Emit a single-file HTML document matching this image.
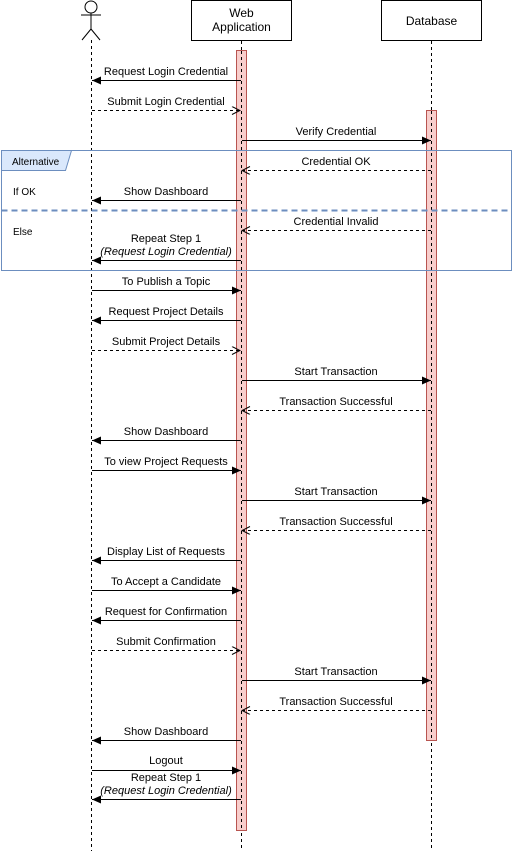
<!DOCTYPE html>
<html><head><meta charset="utf-8"><style>
html,body{margin:0;padding:0;background:#fff;}
svg{display:block;font-family:"Liberation Sans",Arial,sans-serif;}
</style></head><body>
<svg width="512" height="851" viewBox="0 0 512 851" xmlns="http://www.w3.org/2000/svg">
<defs>
<marker id="f" markerWidth="10" markerHeight="10" refX="9" refY="4" orient="auto" markerUnits="userSpaceOnUse"><path d="M0,0 L9,4 L0,8 Z" fill="#000"/></marker>
<marker id="o" markerWidth="10" markerHeight="10" refX="9" refY="4" orient="auto" markerUnits="userSpaceOnUse"><path d="M1,0 L9,4 L1,8" fill="none" stroke="#000" stroke-width="1"/></marker>
</defs>
<!-- actor -->
<g stroke="#000" stroke-width="1" fill="none">
<circle cx="91" cy="7" r="6" fill="#fff"/>
<line x1="91" y1="13" x2="91" y2="29"/>
<line x1="81" y1="15" x2="101" y2="15"/>
<line x1="91" y1="29" x2="82" y2="40"/>
<line x1="91" y1="29" x2="100" y2="40"/>
</g>
<!-- boxes -->
<rect x="191.5" y="0.5" width="100" height="40" fill="#fff" stroke="#000"/>
<text x="241.5" y="17" font-size="12" text-anchor="middle">Web</text>
<text x="241.5" y="31" font-size="12" text-anchor="middle">Application</text>
<rect x="381.5" y="0.5" width="100" height="40" fill="#fff" stroke="#000"/>
<text x="431.5" y="25" font-size="12" text-anchor="middle">Database</text>
<!-- lifelines -->
<g stroke="#000" stroke-dasharray="3,3">
<line x1="91.5" y1="40" x2="91.5" y2="851"/>
<line x1="241.5" y1="41" x2="241.5" y2="851"/>
<line x1="431.5" y1="41" x2="431.5" y2="851"/>
</g>
<!-- activation bars -->
<rect x="236.5" y="50.5" width="10" height="780" fill="#f8cecc" stroke="#b85450"/>
<rect x="426.5" y="110.5" width="10" height="630" fill="#f8cecc" stroke="#b85450"/>
<g stroke="#000" stroke-dasharray="3,3">
<line x1="241.5" y1="51" x2="241.5" y2="830"/>
<line x1="431.5" y1="111" x2="431.5" y2="740"/>
</g>
<!-- alt frame -->
<rect x="1.5" y="150.5" width="510" height="120" fill="none" stroke="#6c8ebf"/>
<path d="M1.5,150.5 H71.5 L65.5,170.5 H1.5 Z" fill="#dae8fc" stroke="#6c8ebf"/>
<text x="12" y="165" font-size="10">Alternative</text>
<text x="13" y="195" font-size="10">If OK</text>
<text x="13" y="235" font-size="10">Else</text>
<line x1="1.5" y1="210.5" x2="511.5" y2="210.5" stroke="#6c8ebf" stroke-width="2" stroke-dasharray="6,4"/>
<!-- messages -->
<g stroke="#000" stroke-width="1" fill="none">
<line x1="241" y1="80.5" x2="92" y2="80.5" marker-end="url(#f)"/>
<line x1="92" y1="110.5" x2="240" y2="110.5" stroke-dasharray="3,3" marker-end="url(#o)"/>
<line x1="242" y1="140.5" x2="431" y2="140.5" marker-end="url(#f)"/>
<line x1="431" y1="170.5" x2="242" y2="170.5" stroke-dasharray="3,3" marker-end="url(#o)"/>
<line x1="241" y1="200.5" x2="92" y2="200.5" marker-end="url(#f)"/>
<line x1="431" y1="230.5" x2="242" y2="230.5" stroke-dasharray="3,3" marker-end="url(#o)"/>
<line x1="241" y1="260.5" x2="92" y2="260.5" marker-end="url(#f)"/>
<line x1="92" y1="290.5" x2="241" y2="290.5" marker-end="url(#f)"/>
<line x1="241" y1="320.5" x2="92" y2="320.5" marker-end="url(#f)"/>
<line x1="92" y1="350.5" x2="240" y2="350.5" stroke-dasharray="3,3" marker-end="url(#o)"/>
<line x1="242" y1="380.5" x2="431" y2="380.5" marker-end="url(#f)"/>
<line x1="431" y1="410.5" x2="242" y2="410.5" stroke-dasharray="3,3" marker-end="url(#o)"/>
<line x1="241" y1="440.5" x2="92" y2="440.5" marker-end="url(#f)"/>
<line x1="92" y1="470.5" x2="241" y2="470.5" marker-end="url(#f)"/>
<line x1="242" y1="500.5" x2="431" y2="500.5" marker-end="url(#f)"/>
<line x1="431" y1="530.5" x2="242" y2="530.5" stroke-dasharray="3,3" marker-end="url(#o)"/>
<line x1="241" y1="560.5" x2="92" y2="560.5" marker-end="url(#f)"/>
<line x1="92" y1="590.5" x2="241" y2="590.5" marker-end="url(#f)"/>
<line x1="241" y1="620.5" x2="92" y2="620.5" marker-end="url(#f)"/>
<line x1="92" y1="650.5" x2="240" y2="650.5" stroke-dasharray="3,3" marker-end="url(#o)"/>
<line x1="242" y1="680.5" x2="431" y2="680.5" marker-end="url(#f)"/>
<line x1="431" y1="710.5" x2="242" y2="710.5" stroke-dasharray="3,3" marker-end="url(#o)"/>
<line x1="241" y1="740.5" x2="92" y2="740.5" marker-end="url(#f)"/>
<line x1="92" y1="770.5" x2="241" y2="770.5" marker-end="url(#f)"/>
<line x1="241" y1="799.5" x2="92" y2="799.5" marker-end="url(#f)"/>
</g>
<g font-size="11" text-anchor="middle" fill="#000">
<text x="166" y="75">Request Login Credential</text>
<text x="166" y="105">Submit Login Credential</text>
<text x="336" y="135">Verify Credential</text>
<text x="336" y="165">Credential OK</text>
<text x="166" y="195">Show Dashboard</text>
<text x="336" y="225">Credential Invalid</text>
<text x="166" y="242">Repeat Step 1</text>
<text x="166" y="255" font-style="italic">(Request Login Credential)</text>
<text x="166" y="285">To Publish a Topic</text>
<text x="166" y="315">Request Project Details</text>
<text x="166" y="345">Submit Project Details</text>
<text x="336" y="375">Start Transaction</text>
<text x="336" y="405">Transaction Successful</text>
<text x="166" y="435">Show Dashboard</text>
<text x="166" y="465">To view Project Requests</text>
<text x="336" y="495">Start Transaction</text>
<text x="336" y="525">Transaction Successful</text>
<text x="166" y="555">Display List of Requests</text>
<text x="166" y="585">To Accept a Candidate</text>
<text x="166" y="615">Request for Confirmation</text>
<text x="166" y="645">Submit Confirmation</text>
<text x="336" y="675">Start Transaction</text>
<text x="336" y="705">Transaction Successful</text>
<text x="166" y="735">Show Dashboard</text>
<text x="166" y="764">Logout</text>
<text x="166" y="781">Repeat Step 1</text>
<text x="166" y="794" font-style="italic">(Request Login Credential)</text>
</g>
</svg>
</body></html>
